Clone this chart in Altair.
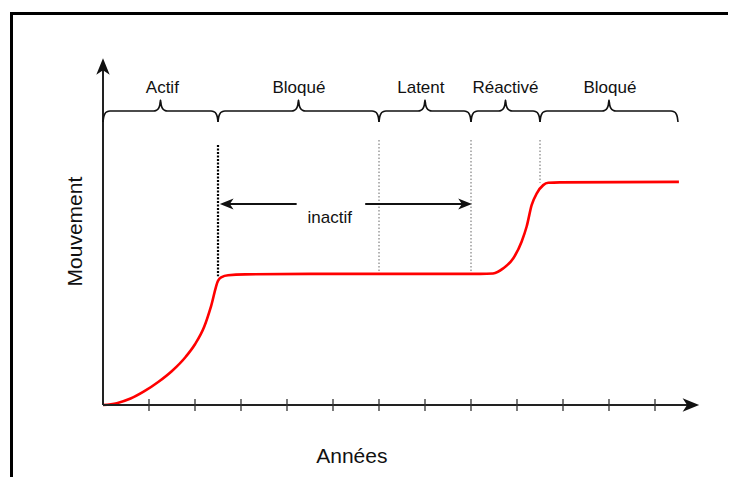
import altair as alt
import pandas as pd

# ---------------- data (years on x, movement on y) ----------------
curve_x = [0.0, 0.3, 0.6, 0.9, 1.2, 1.5, 1.8, 2.0, 2.2, 2.35, 2.5, 2.58, 2.72, 3.09,
           4.5, 6.5, 8.2, 8.48, 8.70, 8.92, 9.10, 9.21, 9.32, 9.43, 9.57, 9.68, 9.93, 12.52]
curve_y = [0.0, 0.04, 0.14, 0.30, 0.50, 0.74, 1.05, 1.32, 1.70, 2.15, 2.70, 2.78, 2.82, 2.84,
           2.85, 2.85, 2.85, 2.86, 2.97, 3.19, 3.55, 3.88, 4.35, 4.60, 4.78, 4.83, 4.84, 4.85]

phase_names = ["Actif", "Bloqué", "Latent", "Réactivé", "Bloqué"]
phase_bounds = [0.0, 2.5, 6.0, 8.0, 9.5, 12.5]
phase_label_x = [1.29, 4.26, 6.91, 8.75, 11.02]
phase_label_y = 6.78

boundary_x = [2.5, 6.0, 8.0, 9.5]
boundary_top = [5.65, 5.76, 5.76, 5.76]
boundary_bottom = [2.80, 2.85, 2.85, 4.83]
boundary_style = ["fort", "fin", "fin", "fin"]

tick_years = list(range(1, 13))

inactif_text = "inactif"
inactif_pos = (4.93, 3.96)
inactif_left = (4.21, 2.54)   # from, to (arrow head at "to")
inactif_right = (5.70, 8.02)
inactif_y = 4.37

x_axis_end = 12.96   # arrow tip
y_axis_end = 7.54

x_title = "Années"
y_title = "Mouvement"

# ---------------- layout helpers ----------------
PX = 46.0                      # pixels per unit
X0_PX, Y0_PX = 103.0, 405.0    # origin in page pixels
W, H = 720, 469
XD = [(8 - X0_PX) / PX, (8 + W - X0_PX) / PX]
YD = [(Y0_PX - (8 + H)) / PX, (Y0_PX - 8) / PX]
FONT = "Liberation Sans"


def X(field="x"):
    return alt.X(f"{field}:Q", scale=alt.Scale(domain=XD), axis=None)


def Y(field="y"):
    return alt.Y(f"{field}:Q", scale=alt.Scale(domain=YD), axis=None)


def px_y(py):
    return (Y0_PX - py) / PX


# curve
curve_df = pd.DataFrame({"x": curve_x, "y": curve_y})
curve = alt.Chart(curve_df).mark_line(color="#ff0000", strokeWidth=2.6,
                                      interpolate="monotone").encode(x=X(), y=Y())

# axes
axes_df = pd.DataFrame({
    "x": [0, 0, 0, x_axis_end - 11 / PX],
    "y": [0, y_axis_end - 11 / PX, 0, 0],
    "g": ["y", "y", "x", "x"],
    "o": [0, 1, 0, 1],
})
axes = alt.Chart(axes_df).mark_line(color="#222222", strokeWidth=2).encode(
    x=X(), y=Y(), detail="g:N", order="o:Q")

DART = "M0,-1L0.75,0.85L0,0.35L-0.75,0.85Z"
AX_S, IN_S = 320, 220
ax_off = (AX_S ** 0.5) / 2
in_off = (IN_S ** 0.5) / 2
heads_df = pd.DataFrame({
    "x": [0, x_axis_end - ax_off / PX, inactif_left[1] + in_off / PX, inactif_right[1] - in_off / PX],
    "y": [y_axis_end - ax_off / PX, 0, inactif_y, inactif_y],
    "a": [0, 90, 270, 90],
    "s": [AX_S, AX_S, IN_S, IN_S],
})
heads = alt.Chart(heads_df).mark_point(shape=DART, filled=True, color="#111111",
                                       opacity=1).encode(
    x=X(), y=Y(), angle=alt.Angle("a:Q", scale=None), size=alt.Size("s:Q", scale=None))

# ticks
ticks_df = pd.DataFrame({"x": tick_years, "y": [6 / PX] * 12, "y2": [-6 / PX] * 12})
ticks = alt.Chart(ticks_df).mark_rule(color="#333333", strokeWidth=1.3).encode(
    x=X(), y=Y(), y2="y2:Q")

# boundaries
bd_df = pd.DataFrame({"x": boundary_x, "y": boundary_top, "y2": boundary_bottom,
                      "s": boundary_style})
bd_strong = alt.Chart(bd_df[bd_df.s == "fort"]).mark_rule(
    color="#000000", strokeWidth=2.2, strokeDash=[2, 1.5]).encode(x=X(), y=Y(), y2="y2:Q")
bd_thin = alt.Chart(bd_df[bd_df.s == "fin"]).mark_rule(
    color="#666666", strokeWidth=1, strokeDash=[1.5, 2]).encode(x=X(), y=Y(), y2="y2:Q")

# inactif arrows
inact_df = pd.DataFrame({
    "x": [inactif_left[0], inactif_left[1] + 9 / PX, inactif_right[0], inactif_right[1] - 9 / PX],
    "y": [inactif_y] * 4,
    "g": ["l", "l", "r", "r"],
})
inact = alt.Chart(inact_df).mark_line(color="#111111", strokeWidth=2).encode(
    x=X(), y=Y(), detail="g:N")

# braces
y_line, y_end, y_tip = px_y(111), px_y(122), px_y(100)
rows = []
for k in range(len(phase_names)):
    a, b = phase_bounds[k], phase_bounds[k + 1]
    m = (a + b) / 2
    pts = [
        (a, y_end), (a + 0.7 / PX, px_y(117)), (a + 2 / PX, px_y(113.6)),
        (a + 4 / PX, px_y(111.8)), (a + 7 / PX, y_line),
        (m - 7 / PX, y_line), (m - 4 / PX, px_y(110.2)), (m - 2 / PX, px_y(108.4)),
        (m - 0.7 / PX, px_y(105)), (m, y_tip),
        (m + 0.7 / PX, px_y(105)), (m + 2 / PX, px_y(108.4)), (m + 4 / PX, px_y(110.2)),
        (m + 7 / PX, y_line),
        (b - 7 / PX, y_line), (b - 4 / PX, px_y(111.8)), (b - 2 / PX, px_y(113.6)),
        (b - 0.7 / PX, px_y(117)), (b, y_end),
    ]
    for i, (xx, yy) in enumerate(pts):
        rows.append({"x": xx, "y": yy, "seg": k, "o": i})
brace_df = pd.DataFrame(rows)
braces = alt.Chart(brace_df).mark_line(color="#111111", strokeWidth=1.6,
                                       interpolate="monotone").encode(
    x=X(), y=Y(), detail="seg:N", order="o:Q")

# labels
lab_df = pd.DataFrame({"x": phase_label_x, "y": [phase_label_y] * 5, "t": phase_names})
labels = alt.Chart(lab_df).mark_text(font=FONT, fontSize=17, color="#111111",
                                     align="center", baseline="alphabetic").encode(
    x=X(), y=Y(), text="t:N")

inact_lab = alt.Chart(pd.DataFrame({"x": [inactif_pos[0]], "y": [inactif_pos[1]],
                                    "t": [inactif_text]})).mark_text(
    font=FONT, fontSize=17, color="#111111", align="center", baseline="alphabetic").encode(
    x=X(), y=Y(), text="t:N")

xt = alt.Chart(pd.DataFrame({"x": [5.41], "y": [-1.26], "t": [x_title]})).mark_text(
    font=FONT, fontSize=21, color="#111111", align="center", baseline="alphabetic").encode(
    x=X(), y=Y(), text="t:N")
yt = alt.Chart(pd.DataFrame({"x": [-0.46], "y": [3.77], "t": [y_title]})).mark_text(
    font=FONT, fontSize=21, color="#111111", align="center", baseline="alphabetic",
    angle=270).encode(x=X(), y=Y(), text="t:N")

# frame
dummy = pd.DataFrame({"a": [0]})
frame_top = alt.Chart(dummy).mark_rule(color="#000000", strokeWidth=3).encode(
    x=alt.value(2), x2=alt.value(W), y=alt.value(5.5))
frame_left = alt.Chart(dummy).mark_rule(color="#000000", strokeWidth=3).encode(
    x=alt.value(3.5), y=alt.value(4), y2=alt.value(H))

chart = alt.layer(
    frame_top, frame_left, bd_thin, bd_strong, curve, axes, ticks, heads, inact,
    braces, labels, inact_lab, xt, yt
).properties(
    width=W, height=H, padding=0, autosize=alt.AutoSizeParams(type="none")
).configure_view(stroke=None)

chart.save("out.html", embed_options={"renderer": "svg", "actions": False})
